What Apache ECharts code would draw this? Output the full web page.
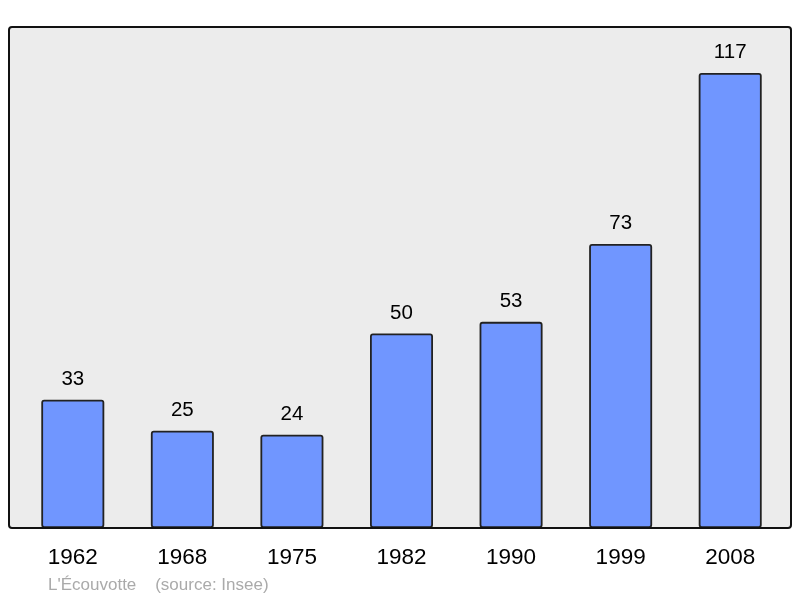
<!DOCTYPE html>
<html><head><meta charset="utf-8">
<script src="https://cdn.jsdelivr.net/npm/echarts@6/dist/echarts.min.js"></script>
<style>html,body{margin:0;padding:0;background:#fff}#c{width:800px;height:598px}</style>
</head><body><div id="c"></div>
<script>
const categories = ['1962','1968','1975','1982','1990','1999','2008'];
const population = [33, 25, 24, 50, 53, 73, 117];
const footerText = "L'Écouvotte    (source: Insee)";

const chart = echarts.init(document.getElementById('c'), null, {renderer:'canvas'});
chart.setOption({
  animation: false,
  backgroundColor: '#ffffff',
  graphic: [
    {type:'rect', z:-10, shape:{x:9,y:27,width:782,height:501,r:3}, style:{fill:'#ececec', stroke:null}},
    {type:'rect', z:100, shape:{x:9,y:27,width:782,height:501,r:3}, style:{fill:null, stroke:'#111', lineWidth:2}},
    {type:'text', left:48, top:577, style:{text:footerText, fill:'#aaaaaa', font:'17px "Liberation Sans", Arial, sans-serif'}}
  ],
  grid: {left:18, right:15, top:27, bottom:70, containLabel:false},
  xAxis: {
    type:'category', data:categories,
    axisLine:{show:false}, axisTick:{show:false},
    axisLabel:{color:'#000', fontSize:22.5, fontFamily:'"Liberation Sans", Arial, sans-serif', margin:18}
  },
  yAxis: {type:'value', min:0, max:128.8, show:false, splitLine:{show:false}},
  series: [{
    type:'bar', data:population, barWidth:63,
    itemStyle:{color:'#7096ff', borderColor:'#222', borderWidth:1.8, borderRadius:2},
    label:{show:true, position:'top', distance:10, color:'#000', fontSize:20.5,
      fontFamily:'"Liberation Sans", Arial, sans-serif'}
  }]
});
</script></body></html>
